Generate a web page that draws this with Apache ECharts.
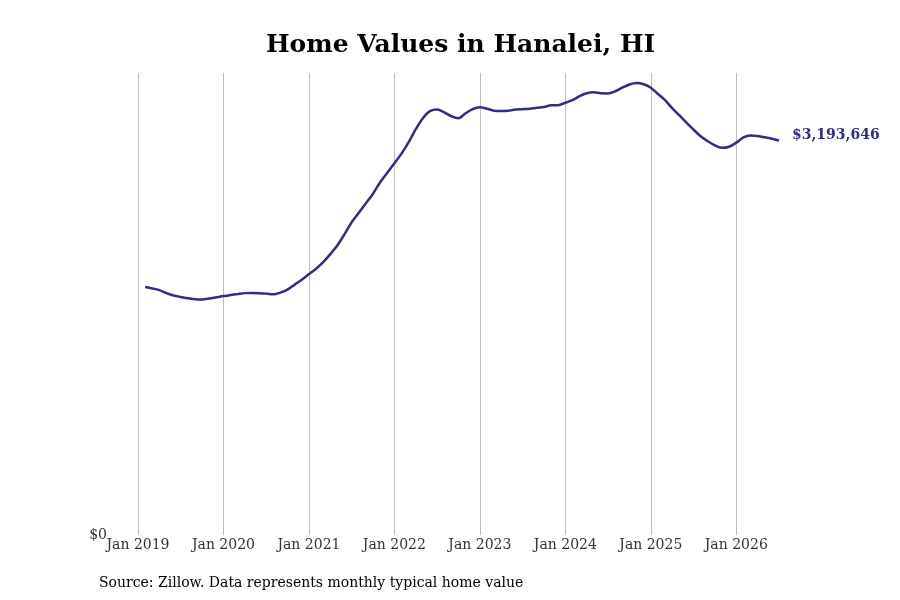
<!DOCTYPE html>
<html>
<head>
<meta charset="utf-8">
<title>Home Values in Hanalei, HI</title>
<script src="https://cdn.jsdelivr.net/npm/echarts@6/dist/echarts.min.js"></script>
<style>
    html, body { margin: 0; padding: 0; background: #fff; }
    #chart { width: 900px; height: 600px; }
</style>
</head>
<body>
<div id="chart"></div>
<script>
// months shown on the axis, Jan 2019 .. Jul 2026
var monthNames = ["Jan", "Feb", "Mar", "Apr", "May", "Jun", "Jul", "Aug", "Sep", "Oct", "Nov", "Dec"];
var firstYear = 2019;
var lastYear = 2026, lastMonth = 7;

// typical home value, Feb 2019 .. Jul 2026 (dollars)
var homeValues = [
    2007000, 1996000, 1982000, 1958000, 1939000, 1927000, 1916000, 1909000, 1907000, 1914000, 1924000,
    1934000, 1942000, 1950000, 1958000, 1960000, 1958000, 1954000, 1948000, 1962000, 1986000, 2027000, 2067000,
    2112000, 2156000, 2209000, 2274000, 2346000, 2435000, 2532000, 2609000, 2686000, 2763000, 2856000, 2933000,
    3010000, 3087000, 3180000, 3285000, 3374000, 3431000, 3444000, 3422000, 3390000, 3374000, 3414000, 3447000,
    3463000, 3451000, 3435000, 3433000, 3435000, 3444000, 3447000, 3451000, 3459000, 3465000, 3478000, 3479000,
    3499000, 3520000, 3552000, 3576000, 3584000, 3576000, 3575000, 3592000, 3621000, 3647000, 3659000, 3649000,
    3621000, 3570000, 3520000, 3455000, 3398000, 3338000, 3281000, 3228000, 3188000, 3155000, 3134000, 3143000,
    3176000, 3218000, 3235000, 3230000, 3220000, 3208000, 3193646
];

var yMax = 3740000;

var months = [];
for (var y = firstYear; y <= lastYear; y++) {
    for (var m = 0; m < 12; m++) {
        if (y === lastYear && m >= lastMonth) break;
        months.push(monthNames[m] + " " + y);
    }
}

// first value belongs to Feb 2019
var seriesData = homeValues.map(function(v, i) {
    return [months[i + 1], v];
});

var isJanuary = function(idx) {
    return idx % 12 === 0;
};

var fontFamily = "'DejaVu Serif', serif";
var lineColor = "#2e2d88";

var myChart = echarts.init(document.getElementById("chart"));
myChart.setOption({
    animation: false,
    textStyle: { fontFamily: fontFamily },
    title: [{
        text: "Home Values in Hanalei, HI",
        left: 266,
        top: 33,
        padding: 0,
        textStyle: { fontFamily: fontFamily, fontSize: 25, fontWeight: "bold", color: "#000" }
    }, {
        text: "Source: Zillow. Data represents monthly typical home value",
        left: 99,
        top: 576,
        padding: 0,
        textStyle: { fontFamily: fontFamily, fontSize: 14, fontWeight: "normal", color: "#000" }
    }],
    grid: { left: 138, right: 121, top: 73, bottom: 65 },
    xAxis: {
        type: "category",
        data: months,
        boundaryGap: false,
        axisLine: { show: false },
        axisTick: { show: false },
        axisLabel: {
            interval: isJanuary,
            margin: 3,
            fontFamily: fontFamily,
            fontSize: 14,
            color: "#333"
        },
        splitLine: {
            show: true,
            interval: isJanuary,
            lineStyle: { color: "#bdbdbd", width: 1 }
        }
    },
    yAxis: {
        type: "value",
        min: 0,
        max: yMax,
        interval: yMax,
        axisLine: { show: false },
        axisTick: { show: false },
        splitLine: { show: false },
        axisLabel: {
            margin: 31,
            fontFamily: fontFamily,
            fontSize: 14,
            color: "#333",
            formatter: function(v) { return v === 0 ? "$0" : ""; }
        }
    },
    series: [{
        type: "line",
        data: seriesData,
        smooth: 0.3,
        showSymbol: false,
        lineStyle: { color: lineColor, width: 2.5 },
        itemStyle: { color: lineColor },
        endLabel: {
            show: true,
            distance: 13,
            offset: [0, -5],
            fontFamily: fontFamily,
            fontSize: 14,
            fontWeight: "bold",
            color: lineColor,
            formatter: function(p) {
                return "$" + p.value[1].toLocaleString("en-US");
            }
        }
    }]
});
</script>
</body>
</html>
